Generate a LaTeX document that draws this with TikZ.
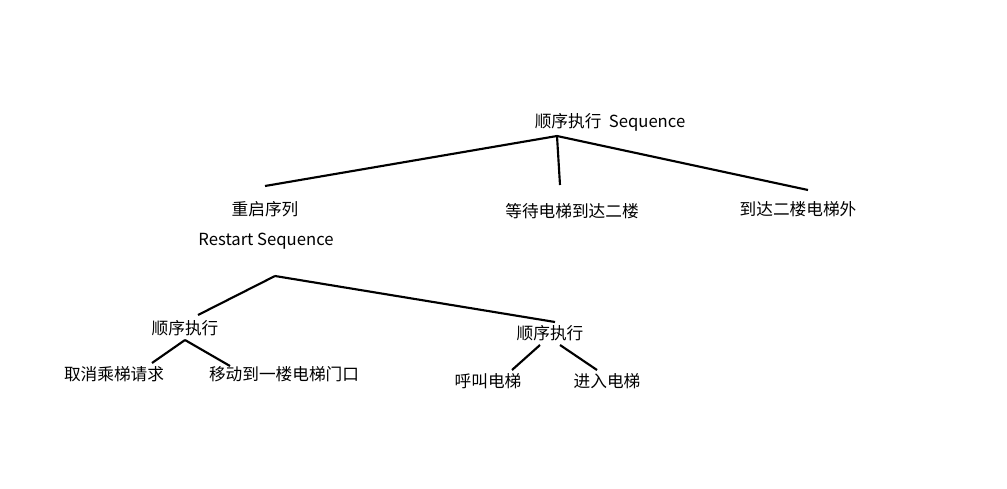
\documentclass[tikz,border=0pt]{standalone}
\usepackage{fontspec}
\setmainfont{Noto Sans CJK SC}
\usetikzlibrary{positioning}
\tikzset{leaf node/.style={inner sep=0pt,font=\fontsize{12.5}{14}\selectfont},
         branch/.style={line width=1.6pt}
}
\begin{document}
\begin{tikzpicture}[x=0.75pt,y=-0.75pt]
\useasboundingbox (0,0) rectangle (1007,489);
% labels
\node [leaf node] (root) at (610,122) {顺序执行\ \ Sequence};
\node [leaf node] (restart) at (265,209) {重启序列};
\node [leaf node] (restart2) at (266,241) {Restart Sequence};
\node [leaf node] (wait) at (572,211) {等待电梯到达二楼};
\node [leaf node] (arrive) at (798,209) {到达二楼电梯外};
\node [leaf node] (seqa) at (185,328) {顺序执行};
\node [leaf node] (seqb) at (550,333) {顺序执行};
\node [leaf node] (cancel) at (114,374) {取消乘梯请求};
\node [leaf node] (move) at (284,374) {移动到一楼电梯门口};
\node [leaf node] (call) at (488,381) {呼叫电梯};
\node [leaf node] (enter) at (607,381) {进入电梯};
% connector ends
\coordinate (r0) at (557,136);
\coordinate (r1) at (265,186);
\coordinate (r2) at (560,185);
\coordinate (r3) at (808,190);
\coordinate (s0) at (275,276);
\coordinate (s1) at (198,315);
\coordinate (s2) at (555,322);
\coordinate (a0) at (185,340);
\coordinate (a1) at (152,363);
\coordinate (a2) at (230,366);
\coordinate (b1) at (540,345);
\coordinate (b2) at (512,370);
\coordinate (b3) at (560,345);
\coordinate (b4) at (597,370);
\draw [branch] (r0) -- (r1);
\draw [branch] (r0) -- (r2);
\draw [branch] (r0) -- (r3);
\draw [branch] (s0) -- (s1);
\draw [branch] (s0) -- (s2);
\draw [branch] (a0) -- (a1);
\draw [branch] (a0) -- (a2);
\draw [branch] (b1) -- (b2);
\draw [branch] (b3) -- (b4);
\end{tikzpicture}
\end{document}
